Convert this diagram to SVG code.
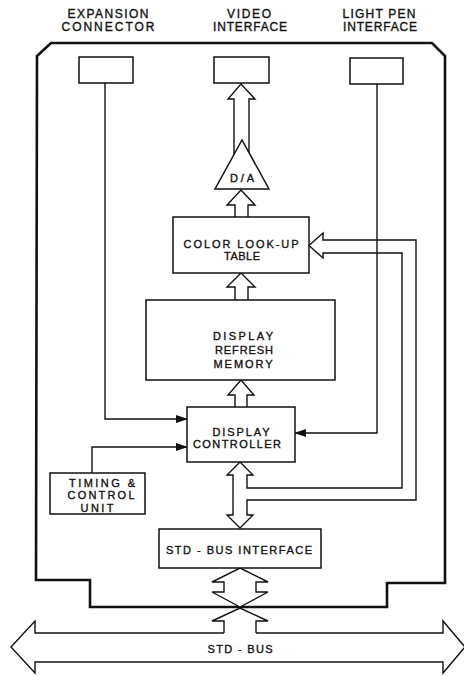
<svg xmlns="http://www.w3.org/2000/svg" width="464" height="676" viewBox="0 0 464 676">
<defs>
<style>
.t{font-family:"Liberation Sans","DejaVu Sans",Arial,sans-serif;font-size:11px;fill:#111;stroke:#111;stroke-width:0.35;text-anchor:middle;}
.h{font-size:12px;}
.box{fill:#fff;stroke:#111;stroke-width:1.5;}
.ln{fill:none;stroke:#111;stroke-width:1.4;}
.hol{fill:#fff;stroke:#111;stroke-width:1.4;stroke-linejoin:miter;}
.board{fill:none;stroke:#111;stroke-width:2.6;stroke-linejoin:miter;}
</style>
<marker id="ah" markerWidth="12" markerHeight="8" refX="11" refY="4" orient="auto" markerUnits="userSpaceOnUse">
<path d="M0,0 L12,4 L0,8 Z" fill="#111"/>
</marker>
</defs>
<rect width="464" height="676" fill="#fff"/>

<g id="labels">
<text class="t h" x="108" y="18" textLength="81" lengthAdjust="spacing">EXPANSION</text>
<text class="t h" x="108" y="31" textLength="93" lengthAdjust="spacing">CONNECTOR</text>
<text class="t h" x="249" y="18" textLength="44" lengthAdjust="spacing">VIDEO</text>
<text class="t h" x="250" y="31" textLength="74" lengthAdjust="spacing">INTERFACE</text>
<text class="t h" x="379" y="18" textLength="73" lengthAdjust="spacing">LIGHT PEN</text>
<text class="t h" x="380" y="31" textLength="74" lengthAdjust="spacing">INTERFACE</text>
</g>

<g id="board">
<path class="board" d="M37,56 L51,43 L432,43 L445,56 L445,583 L387,583 L387,607 L90,607 L90,580 L36,580 Z"/>
</g>

<g id="connectors">
<!-- hollow bus arrows -->
<path class="hol" d="M234,170 L234,99 L228,99 L241,84 L255,99 L249,99 L249,170"/>
<path class="hol" d="M235,217 L235,205 L227,205 L241,190 L255,205 L248,205 L248,217"/>
<path class="hol" d="M235,300 L235,287 L227,287 L241,273 L255,287 L248,287 L248,300"/>
<path class="hol" d="M235,407 L235,395 L228,395 L241,380 L254,395 L247,395 L247,407"/>
<!-- DC <-> STD bus interface with branch to colour look-up table -->
<path class="hol" d="M233,475 L227,475 L240,462 L253,475 L247,475 L247,488 L402,488 L402,253 L323,253 L323,258 L309,245.5 L323,233 L323,240 L416,240 L416,500 L247,500 L247,515 L253,515 L240,528 L227,515 L233,515 Z"/>
<!-- crossing bus down to STD-BUS -->
<path class="hol" d="M240,568 L268,582 L256,582 L256,592 L268,592 L240,607 L212,592 L224,592 L224,582 L212,582 Z"/>
<path class="hol" d="M224,633 L224,621 L212,621 L240,608 L268,621 L256,621 L256,633"/>
<!-- STD-BUS big double arrow -->
<path class="hol" d="M224,633 L35,633 L35,621 L11,647 L35,673 L35,662 L443,662 L443,673 L465,647 L443,621 L443,633 L256,633"/>
<!-- signal lines -->
<path class="ln" d="M105,83 L105,419 L187,419" marker-end="url(#ah)"/>
<path class="ln" d="M377,84 L377,433 L295,433" marker-end="url(#ah)"/>
<path class="ln" d="M92,473 L92,447 L187,447" marker-end="url(#ah)"/>
</g>

<g id="expansion-connector"><rect class="box" x="79" y="57" width="54" height="26"/></g>
<g id="video-interface"><rect class="box" x="214" y="57" width="55" height="26"/></g>
<g id="light-pen-interface"><rect class="box" x="350" y="58" width="53" height="26"/></g>

<g id="da">
<path class="box" d="M242,140 L269,189 L215,189 Z"/>
<text class="t" x="242" y="182" textLength="24" lengthAdjust="spacing">D/A</text>
</g>

<g id="clut">
<rect class="box" x="173" y="217" width="136" height="56"/>
<text class="t" x="241" y="247.5" textLength="115" lengthAdjust="spacing">COLOR LOOK-UP</text>
<text class="t" x="242" y="260" textLength="36" lengthAdjust="spacing">TABLE</text>
</g>

<g id="refresh-memory">
<rect class="box" x="146" y="300" width="189" height="80"/>
<text class="t" x="243" y="340" textLength="60" lengthAdjust="spacing">DISPLAY</text>
<text class="t" x="244" y="354" textLength="58" lengthAdjust="spacing">REFRESH</text>
<text class="t" x="243" y="367.5" textLength="59" lengthAdjust="spacing">MEMORY</text>
</g>

<g id="display-controller">
<rect class="box" x="187" y="407" width="108" height="55"/>
<text class="t" x="241" y="435.5" textLength="57" lengthAdjust="spacing">DISPLAY</text>
<text class="t" x="237" y="448" textLength="88" lengthAdjust="spacing">CONTROLLER</text>
</g>

<g id="timing-control">
<rect class="box" x="50" y="473" width="95" height="41"/>
<text class="t" x="102" y="486.5" textLength="66" lengthAdjust="spacing">TIMING &amp;</text>
<text class="t" x="101" y="499" textLength="67" lengthAdjust="spacing">CONTROL</text>
<text class="t" x="97" y="511.5" textLength="33" lengthAdjust="spacing">UNIT</text>
</g>

<g id="std-bus-interface">
<rect class="box" x="159" y="529" width="162" height="39"/>
<text class="t" x="239" y="554" textLength="146" lengthAdjust="spacing">STD - BUS  INTERFACE</text>
</g>

<g id="std-bus">
<text class="t" x="240" y="653" textLength="65" lengthAdjust="spacing">STD - BUS</text>
</g>
</svg>
